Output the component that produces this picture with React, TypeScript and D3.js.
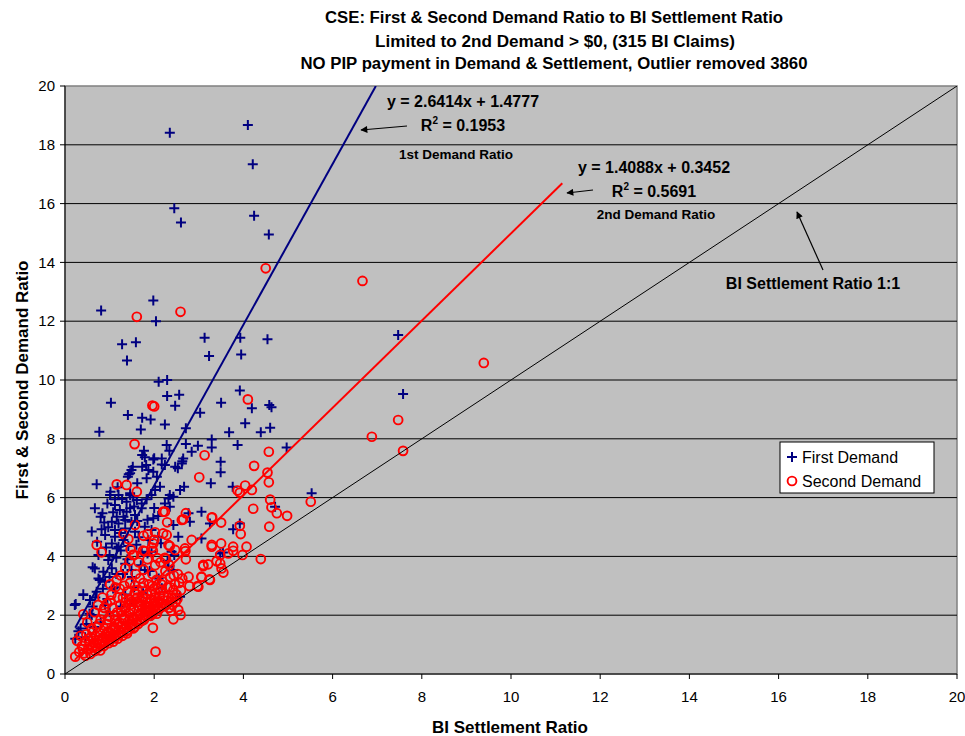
import React from "react";
import * as d3 from "d3";

// ---------- data ----------
const xTicks = [0, 2, 4, 6, 8, 10, 12, 14, 16, 18, 20];
const yTicks = [0, 2, 4, 6, 8, 10, 12, 14, 16, 18, 20];

const titleLines = [
  "CSE: First & Second Demand Ratio to BI Settlement Ratio",
  "Limited to 2nd Demand > $0, (315 BI Claims)",
  "NO PIP payment in Demand & Settlement, Outlier removed 3860",
];

// First demand ratio vs BI settlement ratio
const firstDemand: [number, number][] = [
  [2.35,18.41],[4.10,18.67],[4.21,17.34],[2.45,15.84],[2.60,15.36],[4.24,15.59],[4.57,14.95],[0.81,12.36],[1.98,12.70],[2.04,12.00],
  [1.28,11.22],[1.59,11.28],[1.39,10.66],[3.13,11.44],[3.93,11.44],[4.54,11.39],[3.23,10.82],[3.95,10.87],[2.10,9.94],[2.29,10.00],
  [1.03,9.23],[2.29,9.46],[2.56,9.50],[2.47,9.12],[1.41,8.81],[1.73,8.72],[1.92,8.66],[0.77,8.24],[1.70,8.32],[2.24,8.49],
  [2.71,8.36],[3.03,8.89],[3.50,9.23],[3.92,9.64],[4.19,9.04],[4.58,9.15],[4.63,9.07],[4.04,8.53],[3.68,8.22],[4.39,8.22],
  [4.60,8.38],[2.28,7.79],[2.71,7.82],[2.98,7.76],[3.29,7.98],[3.29,7.70],[3.87,7.79],[4.97,7.70],[1.77,7.59],[1.73,7.45],
  [2.84,7.56],[2.34,7.59],[2.00,7.34],[1.82,7.11],[1.52,7.05],[1.73,7.05],[2.17,7.13],[2.47,7.05],[2.63,7.24],[2.53,7.00],
  [3.49,7.22],[3.49,6.86],[1.43,6.79],[1.83,6.66],[1.98,6.88],[0.71,6.45],[1.62,6.49],[1.02,6.20],[1.46,6.09],[3.27,6.49],
  [3.76,6.37],[2.67,6.37],[5.53,6.15],[7.47,11.53],[7.58,9.52],[4.71,5.69],
  [1.79,7.37],[1.98,7.30],[2.17,7.33],[1.49,6.94],[1.87,6.94],[1.46,6.83],[1.41,6.71],[2.06,6.71],[1.01,6.09],[1.20,6.09],
  [1.12,5.94],[1.46,6.15],[1.53,6.01],[1.38,5.86],[1.61,5.92],[1.72,5.80],[1.83,5.94],[1.94,6.09],[2.02,6.26],[2.13,6.37],
  [0.67,5.64],[0.84,5.47],[1.12,5.75],[1.23,5.58],[1.38,5.52],[1.46,5.64],[1.72,5.64],[1.16,5.35],[1.31,5.35],[1.57,5.41],
  [1.05,5.18],[1.20,5.12],[1.35,5.24],[1.49,5.18],[1.98,5.30],[2.09,5.37],[0.82,4.92],[0.97,4.99],[1.12,4.90],[1.35,4.95],
  [1.57,4.84],[1.79,5.01],[1.94,4.90],[0.90,4.73],[1.12,4.67],[1.31,4.56],[1.05,4.44],[1.20,4.33],[1.87,4.56],[2.09,4.67],
  [2.24,7.11],[2.62,7.16],[2.65,7.33],[2.58,6.26],[2.35,6.09],[2.32,5.97],[2.43,6.03],[2.24,5.80],[2.35,5.69],[3.06,5.52],
  [2.77,5.47],[2.80,5.18],[2.43,5.07],[2.54,4.67],[3.06,4.61],[3.25,5.12],[3.92,5.12],[3.77,4.92],[3.54,4.13],[0.80,5.35],
  [0.62,3.63],[0.41,2.71],[0.24,2.38],[0.23,1.20],
  [1.05,3.60],[1.15,3.95],[1.25,4.20],[1.10,2.95],[1.30,3.40],[1.40,3.90],[1.50,3.30],[1.60,4.40],[1.70,3.70],[1.85,4.10],
  [2.15,4.45],[2.30,3.85],[2.45,4.05],[1.35,2.70],[1.55,2.95],[1.90,3.50],[2.10,3.25],[0.95,2.55],[1.00,3.30],[0.85,2.90],
  [0.78,3.20],[0.68,2.60],[0.55,2.05],[0.48,1.70],[0.35,1.55],[0.62,2.30],[1.95,2.00],[2.39,4.16],[2.32,3.65],[2.43,3.54],
  [2.17,2.92],[2.58,2.63],[3.48,4.10],[1.72,4.16],[1.94,4.16],[1.49,3.54],[1.79,3.54],[0.75,4.05],[0.97,3.88],[1.16,4.27],
  [0.67,3.59],[0.86,3.48],[0.75,3.25],[0.90,3.14],[0.41,2.69],[0.22,2.35],[0.56,2.52],[0.71,2.80],[0.90,2.35],[1.08,2.91],
  [0.60,2.01],[0.30,1.45],[0.45,1.25],[0.65,1.60],[0.80,1.75],[1.00,2.10],[1.25,2.30],[1.50,2.50],[1.75,2.75],
  [0.95,5.80],[1.08,5.50],[0.88,5.15],[1.25,4.80],[1.42,4.35],[1.65,4.65],[1.28,5.95],[1.18,6.35],[1.55,5.70],[0.72,4.50],
  [0.92,4.30],[1.00,4.05],[1.62,5.20],[1.85,5.25],[2.00,5.65],[0.60,4.85],[1.15,3.40],[1.35,3.75],
];

// Second demand ratio vs BI settlement ratio
const secondDemand: [number, number][] = [
  [0.32,0.75],[0.38,0.95],[0.42,0.70],[0.45,1.10],[0.48,1.35],[0.52,0.85],[0.55,1.02],[0.58,1.25],[0.60,1.55],[0.35,1.30],
  [0.50,1.75],[0.62,0.90],[0.57,0.68],
  [0.65,1.05],[0.68,1.30],[0.70,0.95],[0.72,1.60],[0.75,1.15],[0.78,1.40],[0.80,1.85],[0.82,1.00],[0.85,1.25],[0.88,1.55],
  [0.66,2.10],[0.74,2.35],[0.86,2.05],[0.90,1.10],[0.79,0.80],[0.84,2.60],
  [0.92,1.35],[0.95,1.70],[0.97,1.15],[1.00,1.95],[1.02,1.40],[1.05,1.25],[1.07,2.25],[1.10,1.60],[1.12,1.85],[1.15,1.30],
  [1.17,2.10],[1.20,1.50],[0.94,2.40],[1.04,2.70],[1.13,2.95],[1.18,1.20],[0.98,1.05],[1.08,1.10],[1.16,3.20],[1.01,3.05],
  [1.22,1.75],[1.24,2.35],[1.26,1.40],[1.28,2.00],[1.30,2.60],[1.32,1.55],[1.34,1.90],[1.36,2.25],[1.38,1.45],[1.40,2.80],
  [1.42,1.70],[1.44,2.05],[1.46,3.10],[1.48,1.60],[1.25,3.35],[1.35,3.60],[1.45,3.85],[1.29,1.30],[1.39,1.38],[1.49,2.45],
  [1.23,2.90],[1.43,2.55],[1.33,3.00],
  [1.52,1.85],[1.54,2.20],[1.56,1.60],[1.58,2.55],[1.60,1.95],[1.62,2.85],[1.64,1.70],[1.66,2.30],[1.68,3.25],[1.70,2.05],
  [1.72,1.80],[1.74,2.60],[1.76,3.55],[1.78,2.15],[1.55,4.05],[1.65,3.80],[1.75,4.20],[1.57,3.00],[1.67,2.00],[1.77,1.85],
  [1.53,1.55],[1.63,2.45],[1.73,2.95],[1.59,3.40],
  [1.80,2.35],[1.82,1.95],[1.84,2.70],[1.86,2.10],[1.88,3.05],[1.90,2.45],[1.92,1.98],[1.94,2.80],[1.96,3.40],[1.98,2.20],
  [2.00,2.60],[2.02,3.70],[2.04,2.35],[2.06,2.05],[2.08,2.90],[1.85,3.90],[1.95,4.30],[2.05,3.20],[1.83,2.25],[1.93,2.55],
  [2.03,2.75],[1.89,2.15],[1.99,2.40],[2.09,2.25],
  [2.12,2.45],[2.15,2.85],[2.18,3.15],[2.20,2.30],[2.22,2.65],[2.25,3.50],[2.28,2.50],[2.30,2.95],[2.33,2.25],[2.36,3.30],
  [2.40,2.60],[2.43,2.85],[2.46,3.05],[2.50,2.70],[2.53,3.40],[2.14,3.80],[2.24,3.95],[2.34,3.70],[2.44,3.35],[2.48,2.45],
  [2.38,2.15],[2.56,3.10],[2.60,2.85],[2.63,3.25],
  [2.43,1.86],[2.54,2.18],[2.59,2.01],[1.97,1.57],[2.03,0.76],[0.23,0.59],[0.27,1.13],[0.41,2.03],[0.71,4.39],[0.82,4.14],
  [1.61,6.20],[1.16,6.45],[1.38,6.43],[1.56,7.82],[1.96,9.13],[2.00,9.10],[1.61,12.15],[2.59,12.32],[4.50,13.80],[6.67,13.37],
  [4.10,9.34],[6.88,8.07],[3.13,7.44],[4.57,7.56],[4.24,7.08],[4.54,6.85],[4.57,6.52],[3.01,6.69],[4.04,6.41],[3.87,6.24],
  [4.19,6.26],[3.92,6.17],[5.51,5.86],[4.22,5.62],[4.63,5.67],[4.75,5.47],[4.98,5.38],[4.58,5.01],[3.92,5.04],[3.94,4.76],
  [4.39,3.91],[3.77,4.19],[3.66,4.10],[3.98,4.05],[3.30,5.33],[3.50,5.15],[3.29,4.39],[3.50,4.44],[2.84,4.56],[2.71,3.90],
  [2.70,4.18],[3.10,3.67],[3.21,3.73],[3.40,3.84],[3.48,3.76],[3.55,3.45],[3.06,3.29],[3.24,3.22],[2.97,2.99],[2.79,2.99],
  [2.24,5.52],[2.29,5.16],[2.62,5.24],[2.71,5.47],[1.31,4.76],[1.42,4.59],[1.76,4.70],[1.85,4.76],[2.02,4.82],[2.28,4.73],
  [2.32,4.39],[2.47,4.22],[1.47,4.24],[1.52,4.05],[1.79,4.18],[1.98,4.44],[1.97,4.19],[2.07,3.94],[2.26,3.91],[2.65,5.26],
  [3.29,5.32],[2.69,4.27],[3.77,4.33],[4.07,4.33],[2.35,4.35],[1.57,5.07],[2.20,5.52],[2.20,4.78],[2.00,4.56],[7.47,8.64],
  [7.58,7.59],[9.39,10.58],[3.25,3.20],[2.99,2.97],[3.06,3.31],[2.77,3.31],[3.48,4.05],[3.29,4.33],[3.10,3.71],[3.51,3.59],
  [4.60,5.93],
  [0.40,0.85],[0.46,0.62],[0.53,1.20],[0.63,1.20],[0.67,0.78],[0.73,0.88],[0.77,1.02],[0.83,1.12],[0.87,0.95],[0.91,1.22],
  [0.96,1.45],[0.99,1.28],[1.03,1.18],[1.06,1.50],[1.09,1.35],[1.11,1.22],[1.14,1.55],[1.19,1.68],[1.21,1.32],[1.27,1.62],
  [1.31,1.85],[1.37,1.65],[1.41,1.50],[1.45,1.85],[1.47,2.20],[1.51,1.70],[1.55,1.90],[1.61,1.75],[1.65,2.15],[1.69,1.85],
  [1.71,2.35],[1.79,2.00],[1.81,2.55],[1.87,2.30],[1.91,2.20],[1.97,2.05],[2.01,2.30],[2.07,2.45],[2.11,2.20],[2.13,2.65],
  [2.17,2.40],[2.21,2.50],[2.27,2.35],[2.31,2.60],[2.35,2.45],[2.41,2.35],[2.45,2.60],[2.52,2.55],[1.62,2.60],[1.72,2.50],
  [1.84,2.45],[1.46,2.35],[1.26,2.10],[1.12,2.00],[0.96,1.85],[0.76,1.70],[0.62,1.42],[1.36,2.45],[1.56,2.75],[1.76,3.10],
  [1.96,3.00],[2.16,3.05],[2.36,2.95],[1.02,2.50],[1.18,2.60],[0.88,2.25],
];

// trend lines (end points as drawn in the chart)
const firstTrend: [number, number][] = [[0.23, 1.57], [6.97, 20]];
const secondTrend: [number, number][] = [[0.22, 0.48], [11.15, 16.69]];
const parityLine: [number, number][] = [[0, 0], [20, 20]];

const seriesNames = ["First Demand", "Second Demand"];

// ---------- chart ----------
const W = 965, H = 736;
const L = 65, R = 957, T = 86, B = 674;
const NAVY = "#000080";
const RED = "#FF0000";
const FONT = "'Liberation Sans', Arial, sans-serif";

export default function App() {
  const x = d3.scaleLinear().domain([0, 20]).range([L, R]);
  const y = d3.scaleLinear().domain([0, 20]).range([B, T]);
  const line = d3.line<[number, number]>().x(d => x(d[0])).y(d => y(d[1]));

  const cross = (cx: number, cy: number, s = 5) =>
    `M${cx - s},${cy}H${cx + s}M${cx},${cy - s}V${cy + s}`;

  return (
    <svg width={W} height={H} style={{ position: "absolute", left: 0, top: 0, background: "#fff" }}
      fontFamily={FONT}>
      <defs>
        <marker id="ah" viewBox="0 0 10 10" refX="9" refY="5" markerWidth="9" markerHeight="7"
          markerUnits="userSpaceOnUse" orient="auto">
          <path d="M0,0L10,5L0,10z" fill="#000" />
        </marker>
        <clipPath id="plot">
          <rect x={L} y={T} width={R - L} height={B - T} />
        </clipPath>
      </defs>

      {/* plot area */}
      <rect x={L} y={T} width={R - L} height={B - T} fill="#C0C0C0" stroke="#808080" strokeWidth={1.5} />
      {yTicks.slice(1, -1).map(t => (
        <line key={t} x1={L} x2={R} y1={y(t)} y2={y(t)} stroke="#000" strokeWidth={1} />
      ))}

      {/* axes */}
      <line x1={L} x2={L} y1={T} y2={B} stroke="#000" strokeWidth={1} />
      <line x1={L} x2={R} y1={B} y2={B} stroke="#000" strokeWidth={1} />
      {yTicks.map(t => (
        <g key={"y" + t}>
          <line x1={L - 5} x2={L} y1={y(t)} y2={y(t)} stroke="#000" />
          <text x={L - 10} y={y(t)} dy="0.35em" textAnchor="end" fontSize={15}>{t}</text>
        </g>
      ))}
      {xTicks.map(t => (
        <g key={"x" + t}>
          <line x1={x(t)} x2={x(t)} y1={B} y2={B + 5} stroke="#000" />
          <text x={x(t)} y={697} dy="0.35em" textAnchor="middle" fontSize={15}>{t}</text>
        </g>
      ))}

      {/* markers */}
      <g clipPath="url(#plot)">
        <path d={firstDemand.map(d => cross(x(d[0]), y(d[1]))).join("")} stroke={NAVY} strokeWidth={2} fill="none" />
        {secondDemand.map((d, i) => (
          <circle key={i} cx={x(d[0])} cy={y(d[1])} r={4.4} fill="none" stroke={RED} strokeWidth={1.9} />
        ))}
        <path d={line(parityLine)!} stroke="#000" strokeWidth={1} fill="none" />
        <path d={line(firstTrend)!} stroke={NAVY} strokeWidth={2} fill="none" />
        <path d={line(secondTrend)!} stroke={RED} strokeWidth={2} fill="none" />
      </g>

      {/* annotations */}
      <g fontWeight="bold" textAnchor="middle" fill="#000">
        <text x={463} y={107} fontSize={16}>y = 2.6414x + 1.4777</text>
        <text x={463} y={131} fontSize={16}>R<tspan dy={-7} fontSize={10}>2</tspan><tspan dy={7}> = 0.1953</tspan></text>
        <text x={456} y={159} fontSize={13.5}>1st Demand Ratio</text>
        <text x={654} y={173} fontSize={16}>y = 1.4088x + 0.3452</text>
        <text x={654} y={197} fontSize={16}>R<tspan dy={-7} fontSize={10}>2</tspan><tspan dy={7}> = 0.5691</tspan></text>
        <text x={656} y={218.5} fontSize={13.5}>2nd Demand Ratio</text>
        <text x={813} y={289} fontSize={16}>BI Settlement Ratio 1:1</text>
      </g>
      <line x1={407} y1={126} x2={361} y2={130} stroke="#000" strokeWidth={1.2} markerEnd="url(#ah)" />
      <line x1={593} y1={190} x2={567} y2={193} stroke="#000" strokeWidth={1.2} markerEnd="url(#ah)" />
      <line x1={823} y1={270} x2={797} y2={212} stroke="#000" strokeWidth={1.2} markerEnd="url(#ah)" />

      {/* legend */}
      <rect x={780} y={442} width={154} height={51} fill="#fff" stroke="#000" strokeWidth={1} />
      <path d={cross(792, 457, 5)} stroke={NAVY} strokeWidth={2} fill="none" />
      <circle cx={792} cy={481} r={4.4} fill="none" stroke={RED} strokeWidth={1.9} />
      <text x={802} y={457} dy="0.35em" fontSize={16}>{seriesNames[0]}</text>
      <text x={802} y={481} dy="0.35em" fontSize={16}>{seriesNames[1]}</text>

      {/* titles */}
      <g fontWeight="bold" textAnchor="middle" fontSize={16}>
        <text x={554} y={17} dy="0.35em" textLength={458} lengthAdjust="spacingAndGlyphs">{titleLines[0]}</text>
        <text x={555} y={41} dy="0.35em" textLength={360} lengthAdjust="spacingAndGlyphs">{titleLines[1]}</text>
        <text x={554} y={63} dy="0.35em" textLength={507} lengthAdjust="spacingAndGlyphs">{titleLines[2]}</text>
        <text x={510} y={727} dy="0.35em" fontSize={17}>BI Settlement Ratio</text>
        <text transform={`translate(22,380) rotate(-90)`} dy="0.35em" fontSize={17}>First &amp; Second Demand Ratio</text>
      </g>
    </svg>
  );
}
